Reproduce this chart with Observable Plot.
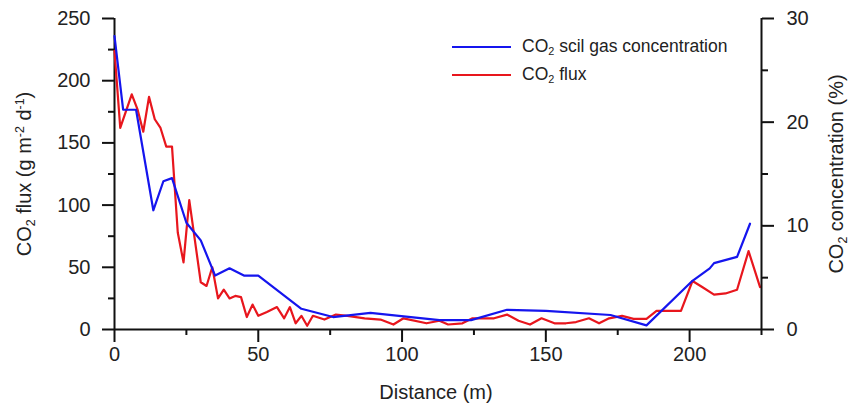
<!DOCTYPE html>
<html>
<head>
<meta charset="utf-8">
<script src="https://cdn.jsdelivr.net/npm/d3@7"></script>
<script src="https://cdn.jsdelivr.net/npm/@observablehq/plot@0.6"></script>
<style>
  html, body { margin: 0; padding: 0; background: #fff; }
  #chart { position: relative; width: 851px; height: 407px; font-family: "Liberation Sans", Arial, Helvetica, sans-serif; color: #222; }
  #chart svg { position: absolute; left: 0; top: 0; }
  .title { position: absolute; white-space: nowrap; line-height: 1; font-size: 20px; color: #222; }
  .rot { transform: translate(-50%, -50%) rotate(-90deg); }
  .ctr { transform: translate(-50%, -50%); }
  .title sub, .legend sub { font-size: 0.62em; vertical-align: -0.3em; line-height: 0; }
  .title sup { font-size: 0.62em; vertical-align: 0.55em; line-height: 0; }
  .legend { position: absolute; left: 452px; top: 36px; font-size: 17.5px; line-height: 1; }
  .legend .row { position: absolute; left: 0; white-space: nowrap; height: 22px; }
  .legend .swatch { position: absolute; left: 0; top: 10px; width: 59px; height: 2px; }
  .legend .lab { position: absolute; left: 70px; top: 2px; }
</style>
</head>
<body>
<div id="chart"></div>
<script>
// Distance along the transect (m) and CO2 flux (g m-2 d-1)
const fluxDistance = [0, 2, 6, 8, 10, 12, 14, 16, 18, 20, 22, 24, 26, 28, 30, 32, 34, 36, 38, 40, 42, 44, 46, 48, 50,
  53, 56.5, 59, 61, 63, 65, 67, 69, 73, 77, 81, 87, 92.5, 97, 100.5, 108.5, 113, 116, 121, 124.5, 132, 136.5,
  140.5, 144.5, 148.5, 153, 157, 160.5, 165, 168.5, 172, 176.5, 180.5, 185, 188.5, 192.5, 197, 201, 204.5,
  208.5, 212.5, 216.5, 220.5, 224.5];
const fluxValue = [224, 162, 189, 177, 159, 187, 169, 162, 147, 147, 78, 54, 104, 71, 38, 35, 50, 25, 32, 25, 27, 26, 10, 20, 11,
  14, 18, 9, 18, 5, 11, 3, 11, 8, 12, 11, 9, 8, 4, 9, 5, 7, 4, 5, 9, 9, 12,
  7, 4, 9, 5, 5, 6, 9, 5, 9, 11, 8.5, 8.5, 15, 15, 15, 39, 34,
  28, 29, 32, 63, 34];

// Distance (m) and CO2 soil gas concentration (%)
const concDistance = [0, 3, 7.5, 13.5, 17, 20, 25, 30, 35, 40, 45, 50, 65, 76, 89, 113, 124, 136.5, 150, 172.5, 185, 201, 207, 208.5, 216.5, 221];
const concValue = [28.3, 21.2, 21.2, 11.5, 14.3, 14.6, 10.3, 8.6, 5.2, 5.9, 5.2, 5.2, 2.0, 1.2, 1.6, 0.9, 0.9, 1.9, 1.8, 1.4, 0.4, 4.7, 5.9, 6.4, 7.0, 10.2];

// Axis ticks
const xMajorTicks = [0, 50, 100, 150, 200];
const xMinorTicks = [25, 75, 125, 175, 225];
const fluxMajorTicks = [0, 50, 100, 150, 200, 250];
const fluxMinorTicks = [25, 75, 125, 175, 225];
const concMajorTicks = [0, 10, 20, 30];
const concMinorTicks = [5, 15, 25];

const fluxRows = fluxDistance.map((d, i) => ({distance: d, flux: fluxValue[i]}));
const concRows = concDistance.map((d, i) => ({distance: d, conc: concValue[i]}));

const FONT = '"Liberation Sans", Arial, Helvetica, sans-serif';
const frame = {
  width: 851, height: 407,
  marginLeft: 114, marginRight: 90, marginTop: 18, marginBottom: 78,
  style: {fontFamily: FONT, fontSize: "20px", background: "transparent", overflow: "visible", color: "#222"}
};
const RED = "#e8161d";
const BLUE = "#1515ee";
const AX = "#111";

// Left scale: CO2 flux, with the x axis
const fluxPlot = Plot.plot({
  ...frame,
  x: {domain: [0, 225]},
  y: {domain: [0, 250]},
  marks: [
    Plot.axisX({ticks: xMajorTicks, tickSize: 13, tickPadding: 4, label: null, stroke: AX, fill: "#222", strokeWidth: 2, tickFormat: d => String(d)}),
    Plot.axisX({ticks: xMinorTicks, tickSize: 6, label: null, stroke: AX, fill: "none", strokeWidth: 2}),
    Plot.axisY({ticks: fluxMajorTicks, tickSize: 12, tickPadding: 12, label: null, stroke: AX, fill: "#222", strokeWidth: 2, tickFormat: d => String(d)}),
    Plot.axisY({ticks: fluxMinorTicks, tickSize: 6, label: null, stroke: AX, fill: "none", strokeWidth: 2}),
    Plot.ruleX([0], {stroke: AX, strokeWidth: 2}),
    Plot.ruleY([0], {stroke: AX, strokeWidth: 2}),
    Plot.line(fluxRows, {x: "distance", y: "flux", stroke: RED, strokeWidth: 2.2, strokeLinejoin: "round"})
  ]
});

// Right scale: CO2 soil gas concentration
const concPlot = Plot.plot({
  ...frame,
  x: {domain: [0, 225], axis: null},
  y: {domain: [0, 30]},
  marks: [
    Plot.axisY({anchor: "right", ticks: concMajorTicks, tickSize: 12, tickPadding: 13, label: null, stroke: AX, fill: "#222", strokeWidth: 2, tickFormat: d => String(d)}),
    Plot.axisY({anchor: "right", ticks: concMinorTicks, tickSize: 6, label: null, stroke: AX, fill: "none", strokeWidth: 2}),
    Plot.ruleX([225], {stroke: AX, strokeWidth: 2}),
    Plot.line(concRows, {x: "distance", y: "conc", stroke: BLUE, strokeWidth: 2.2, strokeLinejoin: "round"})
  ]
});

const chart = document.getElementById("chart");
chart.append(fluxPlot, concPlot);

// Axis titles and legend
chart.insertAdjacentHTML("beforeend", `
  <div class="title rot" style="left:24px; top:174px;">CO<sub>2</sub> flux (g m<sup>-2</sup> d<sup>-1</sup>)</div>
  <div class="title rot" style="left:836px; top:174px;">CO<sub>2</sub> concentration (%)</div>
  <div class="title ctr" style="left:436px; top:392px;">Distance (m)</div>
  <div class="legend">
    <div class="row" style="top:0px;"><div class="swatch" style="background:${BLUE}"></div><div class="lab">CO<sub>2</sub> scil gas concentration</div></div>
    <div class="row" style="top:28px;"><div class="swatch" style="background:${RED}"></div><div class="lab">CO<sub>2</sub> flux</div></div>
  </div>
`);
</script>
</body>
</html>
